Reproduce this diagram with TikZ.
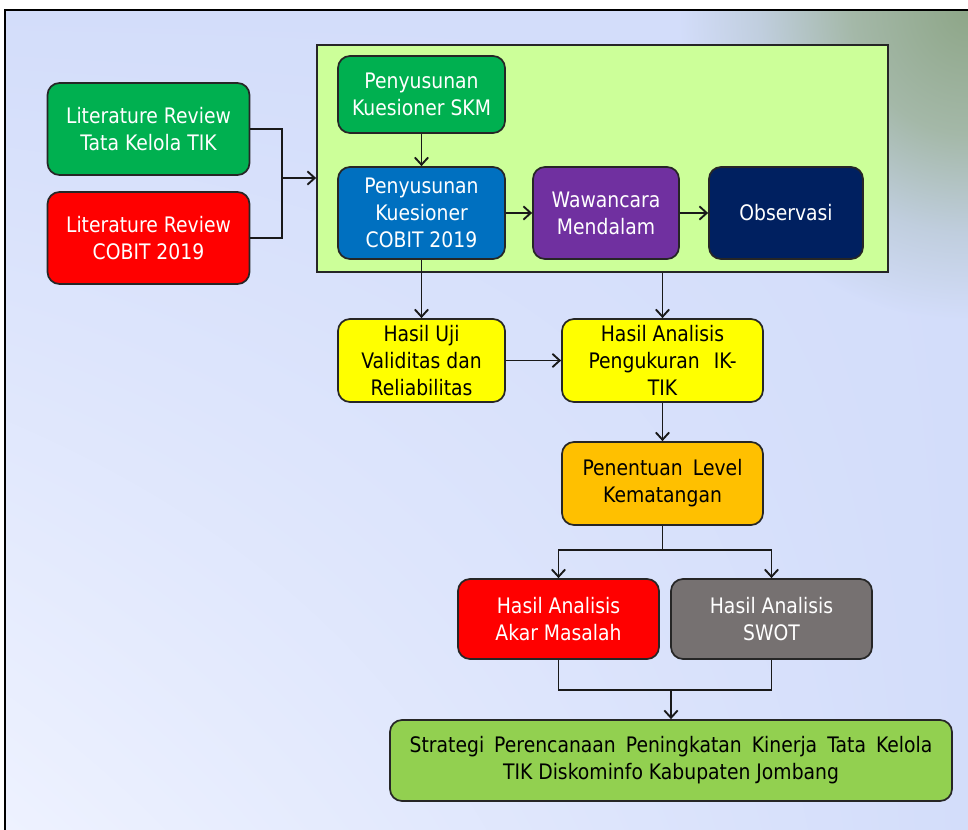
\documentclass[tikz,border=0pt]{standalone}
\usepackage{fontspec}
\setmainfont{DejaVu Sans}[FakeStretch=0.88]
\usetikzlibrary{arrows.meta,shadings}
\definecolor{bgblue}{RGB}{211,221,250}
\definecolor{bglight}{RGB}{238,242,255}
\definecolor{bgcorner}{RGB}{142,166,136}
\definecolor{bgmid1}{RGB}{164,184,168}
\definecolor{bgmid2}{RGB}{192,206,222}
\definecolor{cgreen}{RGB}{0,176,80}
\definecolor{cred}{RGB}{255,0,0}
\definecolor{cblue}{RGB}{0,112,192}
\definecolor{cpurple}{RGB}{112,48,160}
\definecolor{cnavy}{RGB}{0,32,96}
\definecolor{cyellow}{RGB}{255,255,0}
\definecolor{corange}{RGB}{255,192,0}
\definecolor{cgray}{RGB}{118,113,113}
\definecolor{clgreen}{RGB}{146,208,80}
\definecolor{ccont}{RGB}{204,255,153}
\pgfdeclareradialshading{cornershade}{\pgfpoint{0bp}{0bp}}{color(0bp)=(bgcorner); color(10bp)=(bgmid1); color(18bp)=(bgmid2); color(25bp)=(bgblue); color(50bp)=(bgblue)}
\tikzset{
  box/.style={draw=black!85, line width=1.3pt, rounded corners=9pt, align=center,
    inner sep=0pt, font=\fontsize{16}{20.3}\selectfont},
  sz/.style 2 args={minimum width=#1*0.75pt, minimum height=#2*0.75pt},
  wtext/.style={text=white},
  btext/.style={text=black},
  conn/.style={line width=1.4pt, draw=black!90},
  arr/.style={conn, -{Straight Barb[length=5.5pt,width=10pt,line width=1.4pt]}},
}
\begin{document}
\begin{tikzpicture}[x=0.75pt, y=-0.75pt]
\useasboundingbox (0,0) rectangle (968,830);
% background
\fill[white] (0,0) rectangle (968,830);
\shade[lower left=bglight, upper left=bgblue, upper right=bgblue, lower right=bgblue] (5,10) rectangle (968,830);
\begin{scope}
  \clip (5,10) rectangle (968,830);
  \shade[shading=cornershade] (968,10) ellipse (290 and 310);
\end{scope}
\draw[line width=1.6pt] (5,835) -- (5,10) -- (975,10);

% container
\node[draw=black!85, line width=1.3pt, fill=ccont, sz={571}{227}, inner sep=0pt] (cont) at (602.5,158.5) {};

% left boxes
\node[box, fill=cgreen, wtext, sz={202}{92}] (lit1) at (148.5,129) {Literature Review\\Tata Kelola TIK};
\node[box, fill=cred, wtext, sz={202}{92}] (lit2) at (148.5,238) {Literature Review\\COBIT 2019};

% inside container
\node[box, fill=cgreen, wtext, sz={167}{77}] (skm) at (421.5,94.5) {Penyusunan\\Kuesioner SKM};
\node[box, fill=cblue, wtext, sz={167}{92}] (kcob) at (421.5,213) {Penyusunan\\Kuesioner\\COBIT 2019};
\node[box, fill=cpurple, wtext, sz={146}{92}] (waw) at (606,213) {Wawancara\\Mendalam};
\node[box, fill=cnavy, wtext, sz={154}{92}] (obs) at (786,213) {Observasi};

% results
\node[box, fill=cyellow, btext, sz={167}{83}] (uji) at (421.5,360.5) {Hasil Uji\\Validitas dan\\Reliabilitas};
\node[box, fill=cyellow, btext, sz={201}{83}] (ik) at (662.5,360.5) {Hasil Analisis\\\makebox[111pt][s]{Pengukuran IK-}\\TIK};
\node[box, fill=corange, btext, sz={201}{83}] (lvl) at (662.5,483.5) {\makebox[120pt][s]{Penentuan Level}\\Kematangan};
\node[box, fill=cred, wtext, sz={201}{80}] (akar) at (558.5,619) {Hasil Analisis\\Akar Masalah};
\node[box, fill=cgray, wtext, sz={201}{80}] (swot) at (771.5,619) {Hasil Analisis\\SWOT};
\node[box, fill=clgreen, btext, sz={562}{81}] (final) at (671,760.5) {\makebox[392pt][s]{Strategi Perencanaan Peningkatan Kinerja Tata Kelola}\\TIK Diskominfo Kabupaten Jombang};

% connectors
\coordinate (j1) at (282,178);
\draw[conn] (lit1.east) -| (j1);
\draw[conn] (lit2.east) -| (j1);
\draw[arr] (j1) -- (j1 -| cont.west);
\draw[arr] (skm) -- (kcob);
\draw[arr] (kcob) -- (waw);
\draw[arr] (waw) -- (obs);
\draw[arr] (kcob.south) -- (uji.north);
\draw[arr] (cont.south -| ik.north) -- (ik.north);
\draw[arr] (uji) -- (ik);
\draw[arr] (ik) -- (lvl);
\coordinate (j2) at (662.5,550);
\draw[conn] (lvl.south) -- (j2);
\draw[arr] (j2) -| (akar.north);
\draw[arr] (j2) -| (swot.north);
\coordinate (j3) at (671,690);
\draw[conn] (akar.south) |- (j3);
\draw[conn] (swot.south) |- (j3);
\draw[arr] (j3) -- (final.north);
\end{tikzpicture}
\end{document}
